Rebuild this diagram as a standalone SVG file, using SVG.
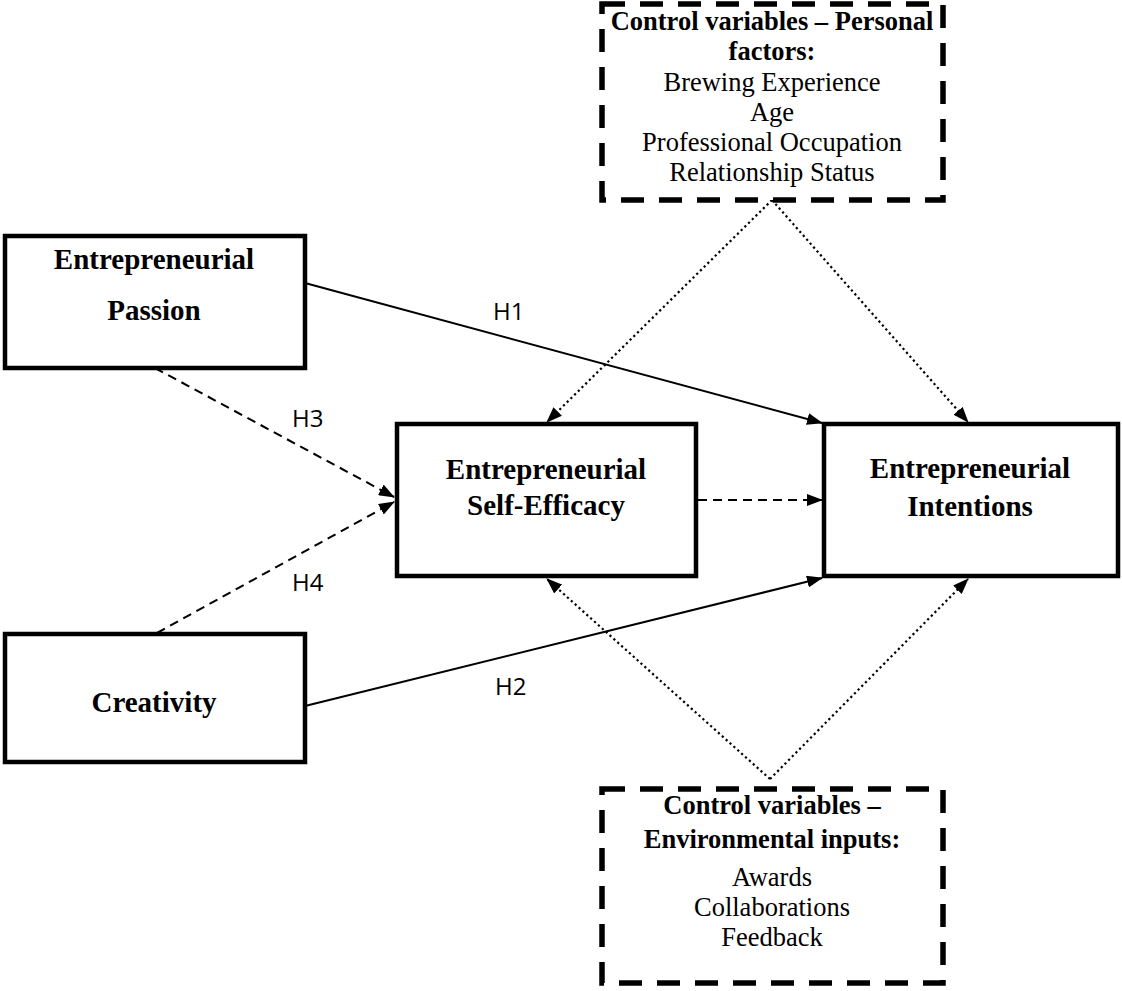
<svg xmlns="http://www.w3.org/2000/svg" width="1122" height="991" viewBox="0 0 1122 991">
<defs>
<style>
.box{fill:#fff;stroke:#000;stroke-width:4.5}
.dbox{fill:#fff;stroke:#000;stroke-width:5.5;stroke-dasharray:23 15}
.t{font-family:"Liberation Serif","Times New Roman",serif;font-weight:bold;font-size:29px;text-anchor:middle;fill:#000}
.c{font-family:"Liberation Serif","Times New Roman",serif;font-size:26.5px;text-anchor:middle;fill:#000}
.cb{font-family:"Liberation Serif","Times New Roman",serif;font-weight:bold;font-size:26.5px;text-anchor:middle;fill:#000}
.h{font-family:"Open Sans","Noto Sans",sans-serif;font-size:24px;fill:#000}
.solid{fill:none;stroke:#000;stroke-width:2}
.dash{fill:none;stroke:#000;stroke-width:2;stroke-dasharray:9 6}
.dot{fill:none;stroke:#000;stroke-width:2.2;stroke-dasharray:2.2 3}
</style>
<marker id="arr" markerWidth="16" markerHeight="12" refX="15" refY="6" orient="auto" markerUnits="userSpaceOnUse">
<path d="M0,0 L16,6 L0,12 z" fill="#000"/>
</marker>
</defs>
<rect width="1122" height="991" fill="#fff"/>
<g id="connectors">
<line class="solid" x1="305" y1="283" x2="822" y2="423" marker-end="url(#arr)"/>
<line class="solid" x1="305" y1="706" x2="822" y2="578" marker-end="url(#arr)"/>
<line class="dash" x1="155" y1="368" x2="394" y2="497" marker-end="url(#arr)"/>
<line class="dash" x1="157" y1="633" x2="394" y2="502" marker-end="url(#arr)"/>
<line class="dash" x1="698" y1="500" x2="822" y2="500" marker-end="url(#arr)"/>
<line class="dot" x1="772" y1="200" x2="547" y2="422" marker-end="url(#arr)"/>
<line class="dot" x1="772" y1="200" x2="968" y2="422" marker-end="url(#arr)"/>
<line class="dot" x1="770" y1="779" x2="547" y2="579" marker-end="url(#arr)"/>
<line class="dot" x1="770" y1="779" x2="968" y2="579" marker-end="url(#arr)"/>
<text class="h" x="493" y="320">H1</text>
<text class="h" x="495" y="695">H2</text>
<text class="h" x="292" y="427">H3</text>
<text class="h" x="292" y="591">H4</text>
</g>
<g id="passion">
<rect class="box" x="5" y="236" width="300" height="132"/>
<text class="t" x="154" y="269">Entrepreneurial</text>
<text class="t" x="154" y="320">Passion</text>
</g>
<g id="creativity">
<rect class="box" x="5" y="634" width="300" height="128"/>
<text class="t" x="154" y="712">Creativity</text>
</g>
<g id="ese">
<rect class="box" x="397" y="424" width="299" height="152"/>
<text class="t" x="546" y="479">Entrepreneurial</text>
<text class="t" x="546" y="515">Self-Efficacy</text>
</g>
<g id="ei">
<rect class="box" x="824" y="424" width="294" height="152"/>
<text class="t" x="970" y="478">Entrepreneurial</text>
<text class="t" x="970" y="516">Intentions</text>
</g>
<g id="personal">
<rect class="dbox" x="602" y="4" width="341" height="196"/>
<text class="cb" x="772" y="30">Control variables – Personal</text>
<text class="cb" x="772" y="60">factors:</text>
<text class="c" x="772" y="91">Brewing Experience</text>
<text class="c" x="772" y="121">Age</text>
<text class="c" x="772" y="151">Professional Occupation</text>
<text class="c" x="772" y="181">Relationship Status</text>
</g>
<g id="environmental">
<rect class="dbox" x="602" y="789" width="341" height="194"/>
<text class="cb" x="772" y="814">Control variables –</text>
<text class="cb" x="772" y="848">Environmental inputs:</text>
<text class="c" x="772" y="886">Awards</text>
<text class="c" x="772" y="916">Collaborations</text>
<text class="c" x="772" y="946">Feedback</text>
</g>
</svg>
